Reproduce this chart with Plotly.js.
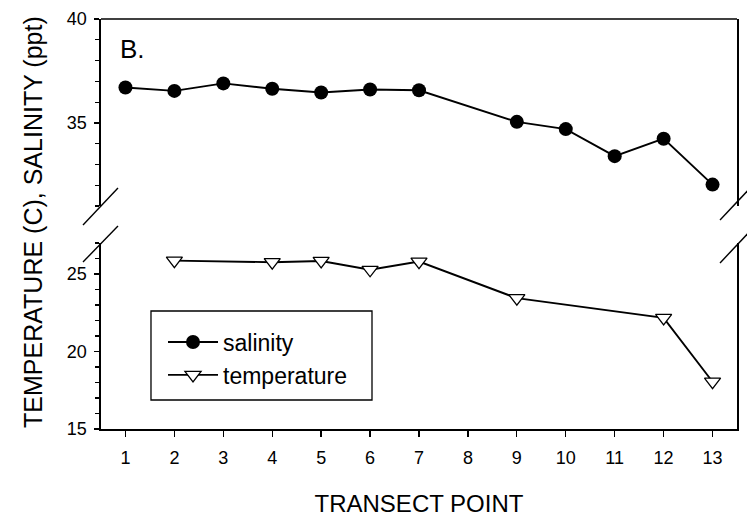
<!DOCTYPE html>
<html><head><meta charset="utf-8">
<script src="https://cdn.plot.ly/plotly-3.0.1.min.js"></script>
<style>html,body{margin:0;padding:0;background:#fff}#chart{width:747px;height:522px}</style>
</head><body><div id="chart"></div>
<script>
// Data
const salinityPoints = [1, 2, 3, 4, 5, 6, 7, 9, 10, 11, 12, 13];
const salinity = [36.70, 36.54, 36.90, 36.64, 36.46, 36.61, 36.57, 35.05, 34.70, 33.40, 34.24, 32.03];
const temperaturePoints = [2, 4, 5, 6, 7, 9, 12, 13];
const temperature = [25.86, 25.76, 25.84, 25.27, 25.80, 23.44, 22.17, 18.05];
const xTickVals = [1, 2, 3, 4, 5, 6, 7, 8, 9, 10, 11, 12, 13];
const lowerTickVals = [15, 20, 25];
const upperTickVals = [35, 40];

const FONT = 'Liberation Sans, Arial, Helvetica, sans-serif';
const lineW = 1.6;

const traces = [
  {
    x: salinityPoints, y: salinity, name: 'salinity', yaxis: 'y2', legendgroup: 'a',
    mode: 'lines+markers', line: {color: '#000', width: 1.9},
    marker: {symbol: 'circle', size: 14, color: '#000', line: {color: '#000', width: 0}}
  },
  {
    x: temperaturePoints, y: temperature, name: 'temperature', yaxis: 'y', legendgroup: 'b',
    mode: 'lines+markers', line: {color: '#000', width: 1.9},
    marker: {symbol: 'triangle-down', size: 14, color: '#fff', line: {color: '#000', width: 1.3}}
  }
];

const yCommon = {
  showline: true, linecolor: '#000', linewidth: lineW, mirror: true,
  ticks: 'outside', ticklen: 5, tickwidth: 1.3, tickcolor: '#000',
  minor: {dtick: 1, tick0: 0, ticks: 'outside', ticklen: 4, tickwidth: 1.1, tickcolor: '#000'},
  showgrid: false, zeroline: false, anchor: 'x',
  tickfont: {family: FONT, size: 18, color: '#000'}, ticklabelstandoff: 4
};

const layout = {
  width: 747, height: 522,
  margin: {l: 101, r: 10, t: 19, b: 93},
  paper_bgcolor: '#fff', plot_bgcolor: '#fff',
  font: {family: FONT, color: '#000'},
  showlegend: true,
  xaxis: {
    range: [0.5, 13.5], tickmode: 'array', tickvals: xTickVals, ticktext: xTickVals.map(String),
    showline: true, linecolor: '#000', linewidth: lineW,
    ticks: 'outside', ticklen: 6, tickwidth: 1.3, tickcolor: '#000',
    showgrid: false, zeroline: false, anchor: 'y',
    tickfont: {family: FONT, size: 18, color: '#000'}, ticklabelstandoff: 6,
    title: {text: 'TRANSECT POINT', font: {family: FONT, size: 24, color: '#000'}, standoff: 28}
  },
  yaxis: Object.assign({}, yCommon, {
    domain: [0, 0.4537], range: [15, 27], tickmode: 'array', tickvals: lowerTickVals
  }),
  yaxis2: Object.assign({}, yCommon, {
    domain: [0.5439, 1], range: [31, 40], tickmode: 'array', tickvals: upperTickVals
  }),
  legend: {
    x: 0.0975, y: 0.2646, xanchor: 'left', yanchor: 'top',
    bgcolor: 'rgba(0,0,0,0)', borderwidth: 0, tracegroupgap: 0, itemwidth: 50,
    font: {family: FONT, size: 23, color: '#000'}
  },
  shapes: [
    // top frame line
    {type: 'line', xref: 'paper', yref: 'paper', x0: 0, x1: 1, y0: 1, y1: 1, line: {color: '#000', width: lineW}},
    // axis break marks, left
    {type: 'line', xref: 'paper', yref: 'paper', x0: -0.0283, x1: 0.0267, y0: 0.4976, y1: 0.5878, line: {color: '#000', width: 1.4}},
    {type: 'line', xref: 'paper', yref: 'paper', x0: -0.0283, x1: 0.0267, y0: 0.4073, y1: 0.4951, line: {color: '#000', width: 1.4}},
    // axis break marks, right
    {type: 'line', xref: 'paper', yref: 'paper', x0: 0.9733, x1: 1.0267, y0: 0.5098, y1: 0.5976, line: {color: '#000', width: 1.4}},
    {type: 'line', xref: 'paper', yref: 'paper', x0: 0.9733, x1: 1.0267, y0: 0.4049, y1: 0.4927, line: {color: '#000', width: 1.4}},
    // legend box
    {type: 'rect', xref: 'paper', yref: 'paper', x0: 0.0786, x1: 0.4261, y0: 0.0707, y1: 0.2878, line: {color: '#000', width: 1.3}, fillcolor: 'rgba(0,0,0,0)'}
  ],
  annotations: [
    {text: 'B.', xref: 'paper', yref: 'paper', x: 0.026, y: 0.927, xanchor: 'left', yanchor: 'middle',
     showarrow: false, font: {family: FONT, size: 26, color: '#000'}},
    {text: 'TEMPERATURE (C), SALINITY (ppt)', xref: 'paper', yref: 'paper', x: -0.107, y: 0.505,
     xanchor: 'center', yanchor: 'middle', textangle: -90, showarrow: false,
     font: {family: FONT, size: 25, color: '#000'}}
  ]
};

Plotly.newPlot('chart', traces, layout, {displayModeBar: false, staticPlot: true});
</script>
</body></html>
